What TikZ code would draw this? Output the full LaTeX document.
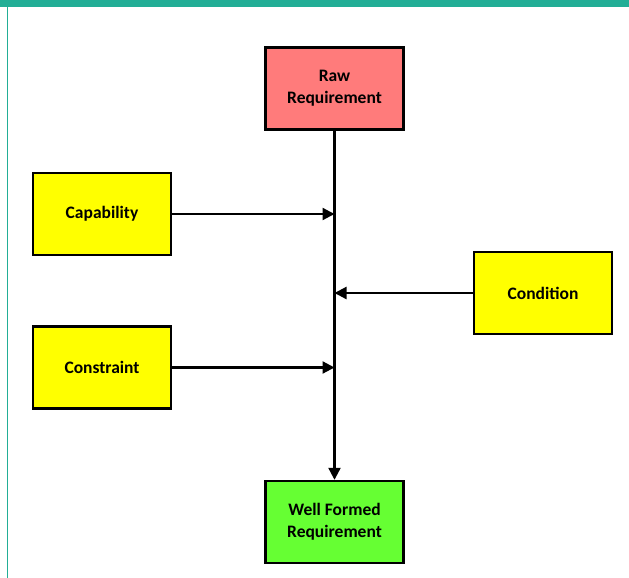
\documentclass[tikz,border=0pt]{standalone}
\usepackage{fontspec}
\setmainfont{Carlito}
\usetikzlibrary{arrows.meta}
\definecolor{frameteal}{HTML}{22AE96}
\definecolor{rawred}{HTML}{FF7B7B}
\definecolor{wellgreen}{HTML}{66FF33}
\definecolor{boxyellow}{HTML}{FFFF00}
\tikzset{
  box/.style={draw=black, line width=2.4pt, minimum width=138pt, minimum height=82pt,
    align=center, font=\bfseries\fontsize{17.5}{22}\selectfont, inner sep=0pt},
  link/.style={line width=2.2pt, -{Triangle[length=12pt,width=12pt]}}
}
\begin{document}
\begin{tikzpicture}[x=1pt,y=-1pt]
\useasboundingbox (0,0) rectangle (629,578);
\fill[white] (0,0) rectangle (629,578);
% frame
\fill[frameteal] (0,0) rectangle (629,7.5);
\draw[frameteal, line width=1.2pt] (7.5,7) -- (7.5,578);
% boxes
\node[box, fill=rawred] (raw) at (334.5,88.5) {Raw\\Requirement};
\node[box, fill=boxyellow] (cap) at (102,214) {Capability};
\node[box, fill=boxyellow] (cond) at (543,293) {Condition};
\node[box, fill=boxyellow] (cons) at (102,367.5) {Constraint};
\node[box, fill=wellgreen] (well) at (334.5,522) {Well Formed\\Requirement};
% spine
\coordinate (p1) at (334.5,214);
\coordinate (p2) at (334.5,293);
\coordinate (p3) at (334.5,367.5);
\draw[link] (raw.south) -- (well.north);
\draw[link] (cap.east) -- (p1);
\draw[link] (cond.west) -- (p2);
\draw[link] (cons.east) -- (p3);
\end{tikzpicture}
\end{document}
